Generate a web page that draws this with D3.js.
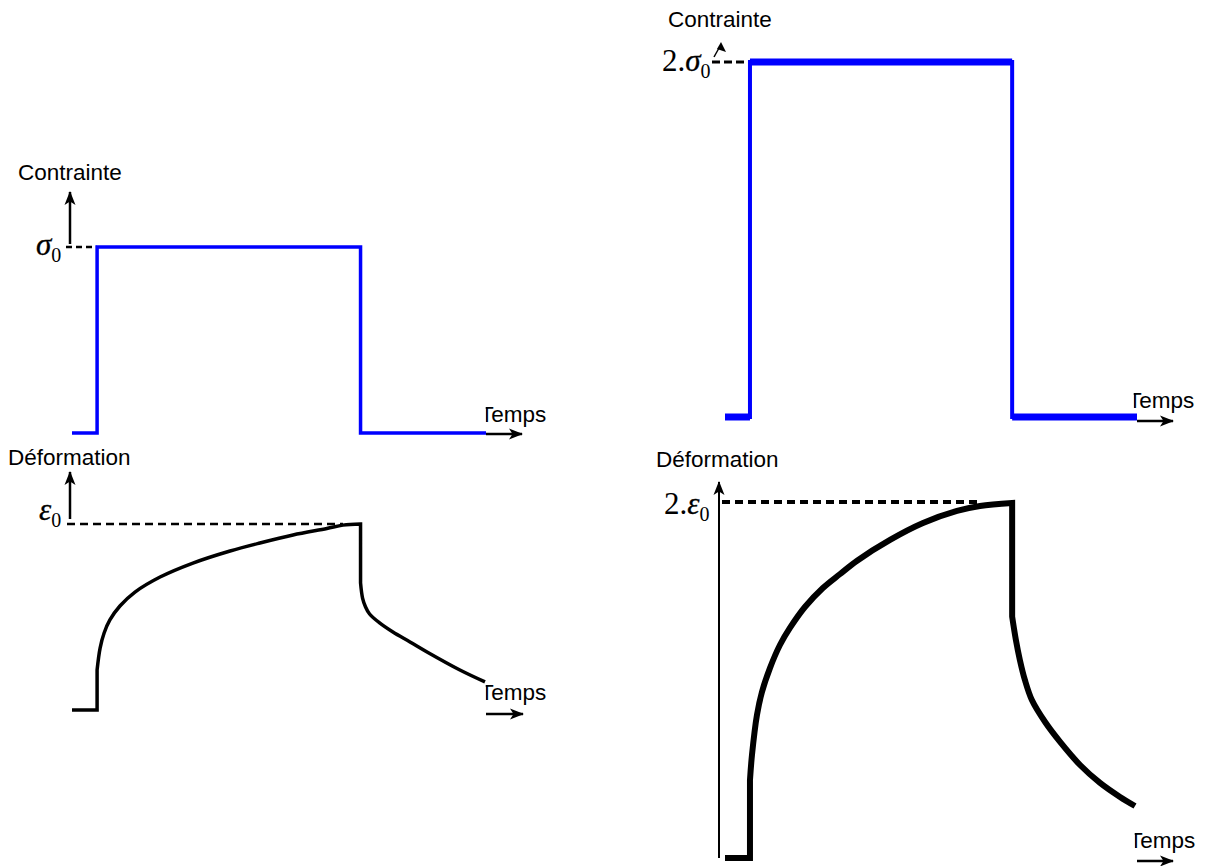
<!DOCTYPE html>
<meta charset="utf-8">
<script src="https://d3js.org/d3.v7.min.js"></script>
<style>
  body { margin: 0; background: #fff; }
  .lab { font-family: 'Liberation Sans', Arial, sans-serif; font-size: 22.5px; fill: #000; }
  .sym { font-family: 'Liberation Serif', 'Times New Roman', serif; fill: #000; }
</style>
<body>
<div id="my_dataviz"></div>
<script>

// time axis (arbitrary units) and step loading, stress in units of sigma0
var stepT = [0, 1, 1, 11.5, 11.5, 16.5];
var stressLeft = [0, 0, 1, 1, 0, 0];
var stressRight = [0, 0, 2, 2, 0, 0];

// strain (in units of eps0), loading branch then recovery branch
var loadTLeft = [1, 1.12, 1.28, 1.51, 1.91, 2.51, 3.51, 4.82, 6.30, 7.49, 8.81, 10.16, 10.8, 11.5];
var loadEpsLeft = [0.215, 0.333, 0.414, 0.484, 0.559, 0.634, 0.715, 0.790, 0.855, 0.898, 0.941, 0.976, 0.994, 1.0];
var unloadTLeft = [11.5, 11.58, 11.70, 11.86, 12.26, 12.79, 13.47, 14.15, 15.46, 16.46];
var unloadEpsLeft = [0.683, 0.602, 0.554, 0.516, 0.468, 0.419, 0.366, 0.312, 0.215, 0.151];

var loadTRight = [1, 1.08, 1.28, 1.48, 1.80, 2.20, 2.60, 3.20, 3.92, 4.61, 5.29, 6.61, 7.93, 9.29, 10.21, 11.5];
var loadEpsRight = [0.439, 0.580, 0.806, 0.935, 1.070, 1.200, 1.296, 1.414, 1.521, 1.600, 1.675, 1.792, 1.887, 1.955, 1.983, 2.0];
var unloadTRight = [11.5, 11.65, 11.81, 12.01, 12.29, 12.82, 13.42, 14.22, 15.02, 15.82, 16.42];
var unloadEpsRight = [1.36, 1.228, 1.115, 1.003, 0.890, 0.766, 0.654, 0.524, 0.423, 0.344, 0.293];

var svg = d3.select("#my_dataviz")
  .append("svg")
    .attr("width", 1207)
    .attr("height", 866);

var defs = svg.append("defs");
defs.append("marker")
    .attr("id", "head")
    .attr("markerUnits", "userSpaceOnUse")
    .attr("viewBox", "0 -6 14 12")
    .attr("refX", 13).attr("refY", 0)
    .attr("markerWidth", 14).attr("markerHeight", 12)
    .attr("orient", "auto")
  .append("path")
    .attr("d", "M0,-5.5L14,0L0,5.5L3.5,0Z")
    .attr("fill", "#000");

// scales
var xL = d3.scaleLinear().domain([0, 16.5]).range([72, 486]);
var xR = d3.scaleLinear().domain([0, 16.5]).range([725, 1137]);
var ySL = d3.scaleLinear().domain([0, 1]).range([433, 247]);
var ySR = d3.scaleLinear().domain([0, 2]).range([417, 62]);
var yEL = d3.scaleLinear().domain([0, 1]).range([710, 524]);
var yER = d3.scaleLinear().domain([0, 2]).range([858, 503]);

function arrow(x1, y1, x2, y2, w) {
  svg.append("line")
    .attr("x1", x1).attr("y1", y1).attr("x2", x2).attr("y2", y2)
    .attr("stroke", "#000").attr("stroke-width", w || 2.5)
    .attr("marker-end", "url(#head)");
}

function dashed(x1, x2, y, w, dash) {
  svg.append("line")
    .attr("x1", x1).attr("x2", x2).attr("y1", y).attr("y2", y)
    .attr("stroke", "#000").attr("stroke-width", w)
    .attr("stroke-dasharray", dash);
}

// "Temps" with the left half of the T cut off, as in the source figure
function temps(stemX, baseY, id) {
  defs.append("clipPath").attr("id", id)
    .append("rect").attr("x", stemX - 1.3).attr("y", baseY - 25).attr("width", 80).attr("height", 35);
  svg.append("text").attr("class", "lab")
    .attr("x", stemX - 6.9).attr("y", baseY)
    .attr("clip-path", "url(#" + id + ")")
    .text("Temps");
}

function greek(x, y, prefix, letter) {
  var t = svg.append("text").attr("class", "sym").attr("x", x).attr("y", y).style("font-size", "31px");
  if (prefix) t.append("tspan").text(prefix);
  t.append("tspan").style("font-style", "italic").attr("stroke", "#000").attr("stroke-width", 0.3).text(letter);
  t.append("tspan").attr("dy", 7).style("font-size", "20px").text("0");
}

function stepPath(x, y, vals, w) {
  var line = d3.line().x(function(d) { return x(d[0]); }).y(function(d) { return y(d[1]); });
  var pts = stepT.map(function(t, i) { return [t, vals[i]]; });
  svg.append("path").attr("d", line(pts))
    .attr("fill", "none").attr("stroke", "#0000ff")
    .attr("stroke-width", w).attr("stroke-linejoin", "miter");
  return line;
}

function strainPath(x, y, lt, le, ut, ue, w) {
  var straight = d3.line().x(function(d) { return x(d[0]); }).y(function(d) { return y(d[1]); });
  var smooth = d3.line().curve(d3.curveCatmullRom.alpha(0.5)).x(function(d) { return x(d[0]); }).y(function(d) { return y(d[1]); });
  var load = lt.map(function(t, i) { return [t, le[i]]; });
  var unload = ut.map(function(t, i) { return [t, ue[i]]; });
  var d = straight([[0, 0], [lt[0], 0], load[0]]) +
          smooth(load).replace(/^M/, "L") +
          straight([load[load.length - 1], unload[0]]).replace(/^M/, "L") +
          smooth(unload).replace(/^M/, "L");
  svg.append("path").attr("d", d)
    .attr("fill", "none").attr("stroke", "#000")
    .attr("stroke-width", w).attr("stroke-linejoin", "miter");
}

// ---- top left : stress sigma0
svg.append("text").attr("class", "lab").attr("x", 18).attr("y", 180).text("Contrainte");
arrow(70, 244, 70, 192);
greek(36, 255, null, "σ");
dashed(66, xL(1), ySL(1), 2.5, "6,4");
stepPath(xL, ySL, stressLeft, 3.5);
arrow(xL(16.5), ySL(0) + 1, xL(16.5) + 36, ySL(0) + 1);
temps(487, 422, "c1");

// ---- bottom left : strain eps0
svg.append("text").attr("class", "lab").attr("x", 8).attr("y", 465).text("Déformation");
arrow(70, 519, 70, 472);
greek(39, 520, null, "ε");
dashed(67, xL(10.8), yEL(1), 2.5, "8,5");
strainPath(xL, yEL, loadTLeft, loadEpsLeft, unloadTLeft, unloadEpsLeft, 3.5);
arrow(xL(16.5), yEL(0) + 4, xL(16.5) + 37, yEL(0) + 4);
temps(487, 700, "c2");

// ---- top right : stress 2.sigma0
svg.append("text").attr("class", "lab").attr("x", 668).attr("y", 27).text("Contrainte");
greek(662, 71, "2.", "σ");
svg.append("path").attr("d", "M714,57L719,48").attr("stroke", "#000").attr("stroke-width", 1.5);
svg.append("path").attr("d", "M721,42L726,52L717,49Z").attr("fill", "#000");
dashed(712, xR(1), ySR(2), 3, "8,4");
var stepLine = stepPath(xR, ySR, stressRight, 4);
// horizontal parts of the step are drawn thicker in the source
stepT.forEach(function(t, i) {
  if (i < stepT.length - 1 && stressRight[i] === stressRight[i + 1]) {
    svg.append("path")
      .attr("d", stepLine([[stepT[i], stressRight[i]], [stepT[i + 1], stressRight[i + 1]]]))
      .attr("stroke", "#0000ff").attr("stroke-width", 7).attr("fill", "none");
  }
});
arrow(xR(16.5), ySR(0) + 4, xR(16.5) + 36, ySR(0) + 4);
temps(1135, 408, "c3");

// ---- bottom right : strain 2.eps0
svg.append("text").attr("class", "lab").attr("x", 656).attr("y", 467).text("Déformation");
greek(664, 514, "2.", "ε");
arrow(719, 858, 719, 482, 2);
dashed(722, xR(10.21), yER(2) - 1, 4, "8,5");
strainPath(xR, yER, loadTRight, loadEpsRight, unloadTRight, unloadEpsRight, 6);
arrow(xR(16.5), 861, xR(16.5) + 36, 861);
temps(1136, 848, "c4");

</script>
</body>
